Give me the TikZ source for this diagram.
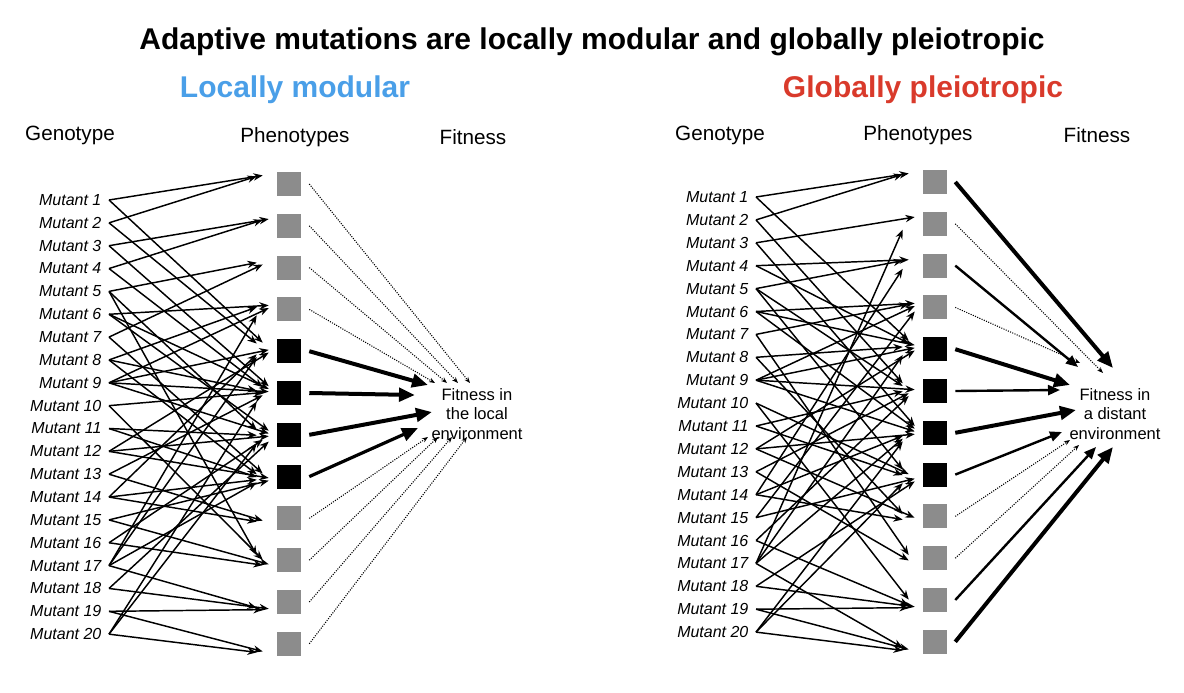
\documentclass[tikz,border=0pt]{standalone}
\usepackage{fontspec}
\setmainfont{Liberation Sans}
\usetikzlibrary{arrows.meta,calc}
\definecolor{gbox}{HTML}{8C8C8C}
\definecolor{blueT}{HTML}{4A9FE8}
\definecolor{redT}{HTML}{D93A2B}
\begin{document}
\begin{tikzpicture}[x=0.75pt,y=-0.75pt,
  mut/.style={anchor=east,font=\fontsize{12}{14}\selectfont\itshape,inner sep=1pt},
  hdr/.style={font=\fontsize{15.5}{18}\selectfont},
  gb/.style={fill=gbox,draw=none,minimum size=18pt,inner sep=0},
  bb/.style={fill=black,draw=none,minimum size=18pt,inner sep=0},
  edge/.style={line width=1.1pt,-{Stealth[length=7pt,width=5.5pt]}},
  dot/.style={line width=0.8pt,densely dotted,-{Stealth[length=4.5pt,width=3.5pt]}},
  thk/.style={line width=3pt,-{Triangle[length=12pt,width=10pt]}},
  mid/.style={line width=1.8pt,-{Triangle[length=9pt,width=7.5pt]}},
  fit/.style={align=center,font=\fontsize{12.4}{14.5}\selectfont}]
\useasboundingbox (0,0) rectangle (1184,692);
\node[font=\fontsize{22.5}{26}\selectfont\bfseries] (title) at (592,42) {Adaptive mutations are locally modular and globally pleiotropic};
\node[font=\fontsize{22.5}{26}\selectfont\bfseries,text=blueT] (lt) at (295,90) {Locally modular};
\node[font=\fontsize{22.5}{26}\selectfont\bfseries,text=redT] (rt) at (923,90) {Globally pleiotropic};
% headers
\node[hdr] (hg1) at (70,135) {Genotype};
\node[hdr] (hp1) at (295,137) {Phenotypes};
\node[hdr] (hf1) at (473,137) {Fitness};
\node[hdr] (hg2) at (720,135) {Genotype};
\node[hdr] (hp2) at (918,135) {Phenotypes};
\node[hdr] (hf2) at (1097,135) {Fitness};
% mutants
\foreach \i in {1,...,20}{
  \node[mut] (mL\i) at (103,{200+(\i-1)*22.85}) {Mutant \i};
  \node[mut] (mR\i) at (750,{197+(\i-1)*22.9}) {Mutant \i};
}
% boxes
\foreach \j in {1,2,3,4,9,10,11,12}{
  \node[gb] (bL\j) at (289,{184+(\j-1)*41.8}) {};
  \node[gb] (bR\j) at (935,{182+(\j-1)*41.8}) {};
}
\foreach \j in {5,6,7,8}{
  \node[bb] (bL\j) at (289,{184+(\j-1)*41.8}) {};
  \node[bb] (bR\j) at (935,{182+(\j-1)*41.8}) {};
}
\node[fit] (fL) at (477,414) {Fitness in\\the local\\environment};
\node[fit] (fR) at (1115,414) {Fitness in\\a distant\\environment};
% genotype -> phenotype edges, left
\foreach \m/\b in {1/1,1/5,2/1,2/5,3/2,3/6,4/2,4/6,5/3,5/7,5/10,6/4,6/6,6/7,7/3,7/8,8/4,8/6,8/8,9/4,9/5,9/6,9/7,10/6,10/10,11/7,11/8,12/5,12/7,12/8,13/6,13/9,14/5,14/8,14/9,15/8,15/10,16/7,16/10,17/4,17/5,17/8,17/11,18/7,18/11,19/11,19/12,20/6,20/7,20/12}{
  \draw[edge] ($(mL\m.east)+(6,0)$) -- ($(bL\b.west)+({-8-mod(\m,3)*6},{(\m-10.5)*0.9})$);
}
% right
\foreach \m/\b in {1/1,1/5,2/1,2/6,3/2,3/7,4/3,4/5,5/3,5/6,5/8,6/4,6/5,6/7,7/4,7/10,8/5,8/9,9/4,9/5,9/6,9/7,10/8,10/11,11/6,11/8,12/5,12/7,12/9,13/6,13/10,14/3,14/7,14/9,15/4,15/8,16/6,16/11,17/2,17/5,17/7,17/12,18/8,18/11,19/11,19/12,20/7,20/8,20/12}{
  \draw[edge] ($(mR\m.east)+(6,0)$) -- ($(bR\b.west)+({-8-mod(\m,3)*6},{(\m-10.5)*0.9})$);
}
% phenotype -> fitness, left
\coordinate (eL1) at (470,383); \coordinate (eL2) at (458,383);
\coordinate (eL3) at (447,383); \coordinate (eL4) at (435,383);
\coordinate (eL5) at (428,385); \coordinate (eL6) at (415,395);
\coordinate (eL7) at (432,412); \coordinate (eL8) at (418,428);
\coordinate (eL9) at (428,437); \coordinate (eL10) at (438,437);
\coordinate (eL11) at (452,437); \coordinate (eL12) at (467,437);
\foreach \j in {1,2,3,4,9,10,11,12}{\draw[dot] ($(bL\j.east)+(8,0)$) -- (eL\j);}
\foreach \j in {5,6,7}{\draw[thk] ($(bL\j.east)+(8,0)$) -- (eL\j);}
\draw[thk,line width=2.4pt] ($(bL8.east)+(8,0)$) -- (eL8);
% right
\coordinate (eR1) at (1113,368); \coordinate (eR2) at (1103,373);
\coordinate (eR3) at (1078,367); \coordinate (eR4) at (1080,363);
\coordinate (eR5) at (1070,385); \coordinate (eR6) at (1060,390);
\coordinate (eR7) at (1076,410); \coordinate (eR8) at (1062,432);
\coordinate (eR9) at (1070,440); \coordinate (eR10) at (1079,445);
\coordinate (eR11) at (1096,447); \coordinate (eR12) at (1113,447);
\foreach \j in {2,4,9,10}{\draw[dot] ($(bR\j.east)+(8,0)$) -- (eR\j);}
\foreach \j in {1,5,7,12}{\draw[thk] ($(bR\j.east)+(8,0)$) -- (eR\j);}
\foreach \j in {3,6,8,11}{\draw[mid] ($(bR\j.east)+(8,0)$) -- (eR\j);}
\end{tikzpicture}
\end{document}
